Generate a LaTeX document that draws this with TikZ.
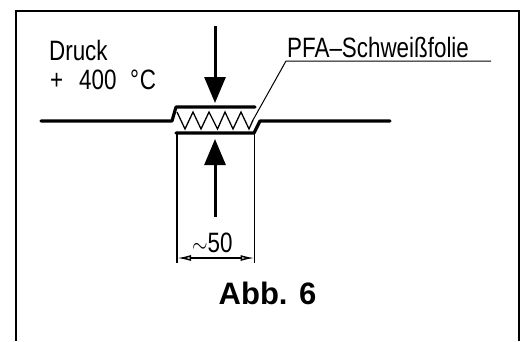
\documentclass[tikz,border=0pt]{standalone}
\usepackage{fontspec}
\setmainfont{Liberation Sans}
\usetikzlibrary{arrows.meta}
\tikzset{
 frameline/.style={line width=2.2pt,black},
 plate/.style={line width=3.2pt,line cap=round,line join=round,black},
 thin line/.style={line width=1.5pt,black},
 leader/.style={line width=1pt,black},
 zig/.style={line width=1.3pt,line join=miter,black},
 cad/.style={inner sep=0pt,anchor=west,font=\fontsize{28}{30}\selectfont,xscale=.8},
 forcearrow/.style={line width=3pt,-{Triangle[length=26pt,width=21pt]}},
 dimline/.style={line width=1.5pt,{Latex[open,length=14pt,width=6pt]}-{Latex[open,length=14pt,width=6pt]}}
}
\begin{document}
\begin{tikzpicture}[x=1pt,y=-1pt]
\useasboundingbox (0,0) rectangle (521,341);
\draw[frameline] (16,341) -- (16,11) -- (519,11) -- (519,341);
% coordinates
\coordinate (fT) at (215,26); \coordinate (fB) at (215,103);
\coordinate (uT) at (215,139); \coordinate (uB) at (215,217);
\coordinate (dL) at (177,258); \coordinate (dR) at (254.5,258);
\coordinate (lA) at (253,120); \coordinate (lB) at (286,61); \coordinate (lC) at (491,61);
% plates
\draw[plate] (41,121) -- (172,121) -- (176,107) -- (255,107);
\draw[plate] (176,133) -- (254,133) -- (260,121) -- (390,121);
% zigzag
\draw[zig] (177,112) -- (185,129) -- (193,112) -- (201,129) -- (209,112) -- (217.5,129) -- (225,112) -- (233,129) -- (241,112) -- (249,129) -- (253,120);
% extension lines
\draw[thin line] (177,133) -- (177,263);
\draw[thin line] (254.5,133) -- (254.5,263);
% force arrows
\draw[forcearrow] (fT) -- (fB);
\draw[forcearrow] (uB) -- (uT);
% dimension
\draw[dimline] (dL) -- (dR);
% leader
\draw[leader] (lA) -- (lB) -- (lC);
% texts
\node[cad] (druck) at (49,50) {Druck};
\node[cad] (temp) at (50,80) {+\hspace{20pt}400\hspace{17pt}°\hspace{1pt}C};
\node[cad] (pfa) at (287,47) {PFA–Schweißfolie};
\node[cad] (dim) at (192,243) {$\sim$50};
\node[inner sep=0pt,font=\bfseries\fontsize{31}{34}\selectfont] (abb) at (267.5,293) {Abb. 6};
\end{tikzpicture}
\end{document}
